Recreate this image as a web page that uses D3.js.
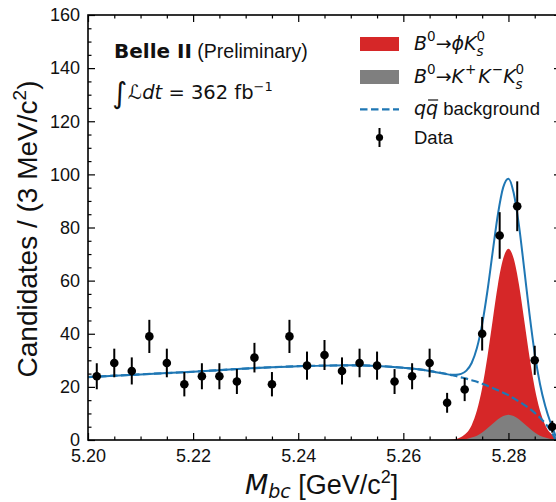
<!DOCTYPE html>
<html>
<head>
<meta charset="utf-8">
<script src="https://cdn.jsdelivr.net/npm/d3@7"></script>
<style>
  body { margin: 0; background: #fff; }
  text { fill: #111; }
</style>
</head>
<body>
<svg id="chart" width="556" height="502"></svg>
<script>
// ---- Data: Mbc distribution, 27 bins between 5.20 and 5.29 GeV/c^2 ----
const binCenters = [5.20167, 5.20500, 5.20833, 5.21167, 5.21500, 5.21833, 5.22167, 5.22500, 5.22833,
                    5.23167, 5.23500, 5.23833, 5.24167, 5.24500, 5.24833, 5.25167, 5.25500, 5.25833,
                    5.26167, 5.26500, 5.26833, 5.27167, 5.27500, 5.27833, 5.28167, 5.28500, 5.28833];
const binCounts = [24, 29, 26, 39, 29, 21, 24, 24, 22, 31, 21, 39, 28, 32, 26, 29, 28, 22,
                   24, 29, 14, 19, 40, 77, 88, 30, 5];

// ---- Fit components sampled along Mbc ----
const fitMass = [5.200, 5.205, 5.210, 5.215, 5.220, 5.225, 5.230, 5.235, 5.240, 5.245, 5.250, 5.255, 5.260, 5.265,
                 5.266, 5.267, 5.268, 5.269, 5.270, 5.271, 5.272, 5.273, 5.274, 5.275, 5.276, 5.277, 5.278, 5.279,
                 5.280, 5.281, 5.282, 5.283, 5.284, 5.285, 5.286, 5.287, 5.288, 5.2885, 5.289];
// continuum q-qbar background
const fitBkg = [23.7, 24.2, 24.7, 25.2, 25.7, 26.3, 26.9, 27.4, 27.8, 28.0, 28.1, 27.9, 27.2, 26.0,
                25.6, 25.3, 24.9, 24.5, 24.1, 23.6, 23.1, 22.5, 21.9, 21.2, 20.4, 19.6, 18.7, 17.8,
                16.9, 15.7, 14.5, 13.2, 11.8, 10.2, 8.4, 6.3, 3.6, 2.0, 0];
// B0 -> phi K0S signal
const fitPhiKs = [0, 0, 0, 0, 0, 0, 0, 0, 0, 0, 0, 0, 0, 0,
                  0, 0, 0, 0.1, 0.4, 1.1, 2.6, 5.6, 11.1, 19.6, 31.3, 45.1, 58.5, 68.3,
                  72.0, 68.3, 58.5, 45.1, 31.3, 19.6, 11.1, 5.6, 2.6, 1.7, 1.1];
// B0 -> K+ K- K0S (non-resonant)
const fitKKKs = [0, 0, 0, 0, 0, 0, 0, 0, 0, 0, 0, 0, 0, 0,
                 0, 0, 0, 0, 0.1, 0.2, 0.4, 0.9, 1.6, 2.8, 4.4, 6.1, 7.8, 9.0,
                 9.5, 9.0, 7.8, 6.1, 4.4, 2.8, 1.6, 0.9, 0.4, 0.3, 0.2];

// ---- Axis ticks ----
const xMajorTicks = [5.20, 5.22, 5.24, 5.26, 5.28];
const xMinorTicks = [5.205, 5.21, 5.215, 5.225, 5.23, 5.235, 5.245, 5.25, 5.255, 5.265, 5.27, 5.275, 5.285];
const yMajorTicks = [0, 20, 40, 60, 80, 100, 120, 140, 160];
const yMinorTicks = [5, 10, 15, 25, 30, 35, 45, 50, 55, 65, 70, 75, 85, 90, 95, 105, 110, 115, 125, 130, 135, 145, 150, 155];

const BLUE = "#1f77b4", RED = "#d62728", GRAY = "#7f7f7f";
const SANS = "'Liberation Sans', Arial, Helvetica, sans-serif";
const MATH = "'DejaVu Sans', sans-serif";

const svg = d3.select("#chart");
const x = d3.scaleLinear().domain([5.20, 5.29]).range([88, 561]);
const y = d3.scaleLinear().domain([0, 160]).range([440, 15]);
const [x0, x1] = x.range();
const [yb, yt] = y.range();

svg.append("defs").append("clipPath").attr("id", "plot-clip")
  .append("rect").attr("x", x0).attr("y", yt).attr("width", x1 - x0).attr("height", yb - yt);

const plot = svg.append("g").attr("clip-path", "url(#plot-clip)");

const fit = fitMass.map((m, i) => ({
  m,
  bkg: fitBkg[i],
  phi: fitPhiKs[i],
  kkk: fitKKKs[i],
  total: fitBkg[i] + fitPhiKs[i] + fitKKKs[i]
}));

const curve = d3.curveMonotoneX;

// filled signal components
plot.append("path").datum(fit)
  .attr("d", d3.area().x(d => x(d.m)).y0(y(0)).y1(d => y(d.phi)).curve(curve))
  .attr("fill", RED);
plot.append("path").datum(fit)
  .attr("d", d3.area().x(d => x(d.m)).y0(y(0)).y1(d => y(d.kkk)).curve(curve))
  .attr("fill", GRAY);

// continuum background (dashed)
plot.append("path").datum(fit)
  .attr("d", d3.line().x(d => x(d.m)).y(d => y(d.bkg)).curve(curve))
  .attr("fill", "none").attr("stroke", BLUE).attr("stroke-width", 2.2)
  .attr("stroke-dasharray", "7.5,3.5");

// total fit
plot.append("path").datum(fit)
  .attr("d", d3.line().x(d => x(d.m)).y(d => y(d.total)).curve(curve))
  .attr("fill", "none").attr("stroke", BLUE).attr("stroke-width", 2);

// data with Poisson error bars
const data = binCenters.map((m, i) => ({ m, n: binCounts[i], e: Math.sqrt(binCounts[i]) }));
const pts = plot.append("g").selectAll("g").data(data).join("g");
pts.append("line")
  .attr("x1", d => x(d.m)).attr("x2", d => x(d.m))
  .attr("y1", d => y(d.n - d.e)).attr("y2", d => y(d.n + d.e))
  .attr("stroke", "#000").attr("stroke-width", 2);
pts.append("circle")
  .attr("cx", d => x(d.m)).attr("cy", d => y(d.n)).attr("r", 4.3).attr("fill", "#000");

// ---- Axes (ticks pointing inward) ----
function styleAxis(g) {
  g.select(".domain").remove();
  g.selectAll(".tick line").attr("stroke", "#000").attr("stroke-width", 1.2);
  g.selectAll(".tick text").style("font-family", SANS).style("font-size", "18px").attr("fill", "#222");
}
const fmtX = d3.format(".2f");

svg.append("g").attr("transform", `translate(0,${yb})`)
  .call(d3.axisBottom(x).tickValues(xMajorTicks).tickFormat(fmtX).tickSize(-7).tickPadding(9))
  .call(styleAxis);
svg.append("g").attr("transform", `translate(0,${yb})`)
  .call(d3.axisBottom(x).tickValues(xMinorTicks).tickFormat("").tickSize(-3.5))
  .call(styleAxis);
svg.append("g").attr("transform", `translate(0,${yt})`)
  .call(d3.axisTop(x).tickValues(xMajorTicks).tickFormat("").tickSize(-7))
  .call(styleAxis);
svg.append("g").attr("transform", `translate(0,${yt})`)
  .call(d3.axisTop(x).tickValues(xMinorTicks).tickFormat("").tickSize(-3.5))
  .call(styleAxis);

svg.append("g").attr("transform", `translate(${x0},0)`)
  .call(d3.axisLeft(y).tickValues(yMajorTicks).tickFormat(d3.format("d")).tickSize(-7).tickPadding(8))
  .call(styleAxis);
svg.append("g").attr("transform", `translate(${x0},0)`)
  .call(d3.axisLeft(y).tickValues(yMinorTicks).tickFormat("").tickSize(-3.5))
  .call(styleAxis);
svg.append("g").attr("transform", `translate(${x1},0)`)
  .call(d3.axisRight(y).tickValues(yMajorTicks).tickFormat("").tickSize(-7))
  .call(styleAxis);
svg.append("g").attr("transform", `translate(${x1},0)`)
  .call(d3.axisRight(y).tickValues(yMinorTicks).tickFormat("").tickSize(-3.5))
  .call(styleAxis);

// frame
svg.append("rect").attr("x", x0).attr("y", yt).attr("width", x1 - x0).attr("height", yb - yt)
  .attr("fill", "none").attr("stroke", "#000").attr("stroke-width", 1.6);

// ---- Axis titles ----
const yTitle = svg.append("text")
  .attr("transform", "translate(37,229) rotate(-90)")
  .attr("text-anchor", "middle")
  .style("font-family", SANS).style("font-size", "28px").attr("fill", "#222");
yTitle.append("tspan").text("Candidates / (3 MeV/c");
yTitle.append("tspan").attr("dy", -11).style("font-size", "19px").text("2");
yTitle.append("tspan").attr("dy", 11).text(")");

const xTitle = svg.append("text").attr("x", 245).attr("y", 494)
  .style("font-size", "27px").attr("fill", "#222");
xTitle.append("tspan").style("font-family", MATH).style("font-style", "italic").text("M");
xTitle.append("tspan").style("font-family", MATH).style("font-style", "italic")
  .style("font-size", "19px").attr("dy", 4).text("bc");
xTitle.append("tspan").style("font-family", SANS).attr("dy", -4).text(" [GeV/c");
xTitle.append("tspan").style("font-family", SANS).style("font-size", "18px").attr("dy", -11).text("2");
xTitle.append("tspan").style("font-family", SANS).attr("dy", 11).text("]");

// ---- Experiment label ----
const belle = svg.append("text").attr("x", 114).attr("y", 58).attr("fill", "#222");
belle.append("tspan").style("font-family", MATH).style("font-weight", "bold").style("font-size", "20px").text("Belle II");
belle.append("tspan").style("font-family", SANS).style("font-size", "19.5px").text(" (Preliminary)");

const lumi = svg.append("text").attr("x", 112).attr("y", 99).attr("fill", "#222")
  .style("font-family", MATH).style("font-size", "19.5px");
lumi.append("tspan").style("font-size", "29px").attr("dy", 4).text("\u222B");
lumi.append("tspan").attr("dy", -4).attr("dx", 1).style("font-style", "italic").text("\u2112");
lumi.append("tspan").style("font-style", "italic").text("dt");
lumi.append("tspan").text(" = 362 fb");
lumi.append("tspan").style("font-size", "13px").attr("dy", -8).text("\u22121");

// ---- Legend ----
const lx = 360, lw = 39, tx = 414;
const legend = svg.append("g");
legend.append("rect").attr("x", lx).attr("y", 37).attr("width", lw).attr("height", 14).attr("fill", RED);
legend.append("rect").attr("x", lx).attr("y", 70).attr("width", lw).attr("height", 14).attr("fill", GRAY);
legend.append("line").attr("x1", lx).attr("x2", lx + lw).attr("y1", 109.3).attr("y2", 109.3)
  .attr("stroke", BLUE).attr("stroke-width", 2.2).attr("stroke-dasharray", "7.5,3.5");
legend.append("line").attr("x1", lx + lw / 2).attr("x2", lx + lw / 2).attr("y1", 128).attr("y2", 147)
  .attr("stroke", "#000").attr("stroke-width", 2);
legend.append("circle").attr("cx", lx + lw / 2).attr("cy", 137.5).attr("r", 3.6).attr("fill", "#000");

const SUP = "13.5px";
function mathText(yBase) {
  return legend.append("text").attr("x", tx).attr("y", yBase).attr("fill", "#222")
    .style("font-family", MATH).style("font-size", "19px");
}
// K with a stacked 0 superscript and s subscript
function kShort(t, dy0) {
  t.append("tspan").attr("dy", dy0).style("font-style", "italic").text("K");
  t.append("tspan").style("font-size", SUP).attr("dy", -9).text("0");
  t.append("tspan").style("font-size", SUP).style("font-style", "italic").attr("dx", -8.6).attr("dy", 15).text("s");
}
const l1 = mathText(50);
l1.append("tspan").style("font-style", "italic").text("B");
l1.append("tspan").style("font-size", SUP).attr("dy", -9).text("0");
l1.append("tspan").attr("dy", 9).text("\u2192");
l1.append("tspan").style("font-style", "italic").text("\u03D5");
kShort(l1, 0);

const l2 = mathText(83);
l2.append("tspan").style("font-style", "italic").text("B");
l2.append("tspan").style("font-size", SUP).attr("dy", -9).text("0");
l2.append("tspan").attr("dy", 9).text("\u2192");
l2.append("tspan").style("font-style", "italic").text("K");
l2.append("tspan").style("font-size", SUP).attr("dy", -9).attr("dx", 1).text("+");
l2.append("tspan").attr("dy", 9).attr("dx", 2).style("font-style", "italic").text("K");
l2.append("tspan").style("font-size", SUP).attr("dy", -9).attr("dx", 1).text("\u2212");
kShort(l2, 9);

const l3 = mathText(115);
l3.append("tspan").style("font-style", "italic").text("q");
const qbar = l3.append("tspan").style("font-style", "italic").text("q");
l3.append("tspan").style("font-family", SANS).style("font-size", "18.5px").text(" background");
const qb = qbar.node().getBBox();
legend.append("line").attr("x1", qb.x + 2).attr("x2", qb.x + qb.width).attr("y1", 100).attr("y2", 100)
  .attr("stroke", "#222").attr("stroke-width", 1.3);

legend.append("text").attr("x", tx).attr("y", 144).attr("fill", "#222")
  .style("font-family", SANS).style("font-size", "18.5px").text("Data");
</script>
</body>
</html>
